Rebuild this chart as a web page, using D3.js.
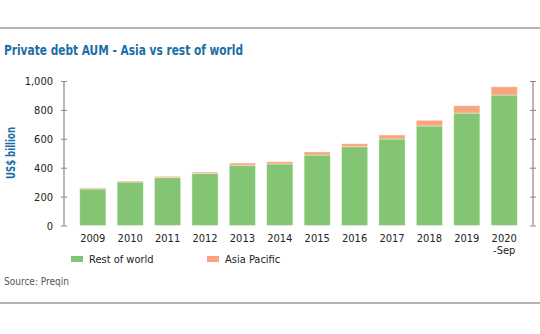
<!DOCTYPE html>
<html><head><meta charset="utf-8">
<script src="https://cdn.jsdelivr.net/npm/d3@7"></script>
<style>
html,body{margin:0;padding:0;background:#fff;}
svg{display:block;}
text{font-family:"DejaVu Sans Condensed","Liberation Sans Narrow","Roboto",sans-serif;}
</style></head>
<body>
<svg id="c" width="540" height="334"></svg>
<script>
const categories = ["2009","2010","2011","2012","2013","2014","2015","2016","2017","2018","2019","2020\n-Sep"];
const restOfWorld = [253,301,331,361,417,426,488,545,599,689,778,903];
const asiaPacific = [7,7,9,9,15,15,21,21,27,39,51,57];
const yTicks = [0,200,400,600,800,1000];
const seriesNames = ["Rest of world","Asia Pacific"];
const colors = ["#84c574","#f9a47c"];

const svg = d3.select("#c");
// frame lines
svg.append("line").attr("x1",0).attr("x2",540).attr("y1",28).attr("y2",28).attr("stroke","#9a9a9a").attr("stroke-width",1.5);
svg.append("line").attr("x1",0).attr("x2",540).attr("y1",303).attr("y2",303).attr("stroke","#9a9a9a").attr("stroke-width",1.5);

svg.append("text").attr("x",4).attr("y",55).attr("fill","#1b6ea6").attr("font-size",14).attr("font-weight","bold")
  .attr("textLength",239).attr("lengthAdjust","spacingAndGlyphs")
  .text("Private debt AUM - Asia vs rest of world");

const x = d3.scaleBand().domain(categories).range([64,533]).paddingInner(0.3).paddingOuter(0.42);
const y = d3.scaleLinear().domain([0,1000]).range([225.5,81]);

const data = categories.map((c,i)=>({cat:c, row:restOfWorld[i], ap:asiaPacific[i]}));
const stack = d3.stack().keys(["row","ap"])(data);

svg.append("g").selectAll("g").data(stack).join("g")
  .attr("fill",(d,i)=>colors[i])
  .selectAll("rect").data(d=>d).join("rect")
  .attr("x",d=>x(d.data.cat)).attr("width",x.bandwidth())
  .attr("y",d=>y(d[1])).attr("height",d=>y(d[0])-y(d[1]))
  .attr("stroke","#ffffff").attr("stroke-opacity",0.5).attr("stroke-width",0.8);

// left axis
const axL = svg.append("g").attr("transform","translate(64,0)")
  .call(d3.axisLeft(y).tickValues(yTicks).tickFormat(d3.format(",")).tickSize(3).tickPadding(8));
axL.select(".domain").remove();
axL.insert("line",":first-child").attr("y1",y(0)).attr("y2",y(1000)).attr("stroke","#888").attr("stroke-width",1.2);
axL.selectAll(".tick line").attr("x1",-3).attr("x2",3).attr("stroke","#888");
axL.selectAll(".tick text").attr("font-size",11).attr("fill","#222");

// right axis (no labels)
const axR = svg.append("g").attr("transform","translate(533,0)")
  .call(d3.axisRight(y).tickValues(yTicks).tickFormat("").tickSize(3));
axR.select(".domain").remove();
axR.insert("line",":first-child").attr("y1",y(0)).attr("y2",y(1000)).attr("stroke","#888").attr("stroke-width",1.2);
axR.selectAll(".tick line").attr("x1",-3).attr("x2",3).attr("stroke","#888");

// x labels
const xl = svg.append("g").selectAll("text").data(categories).join("text")
  .attr("x",d=>x(d)+x.bandwidth()/2).attr("y",242).attr("text-anchor","middle")
  .attr("font-size",11).attr("fill","#222");
xl.each(function(d){
  const parts = d.split("\n");
  d3.select(this).selectAll("tspan").data(parts).join("tspan")
    .attr("x",x(d)+x.bandwidth()/2).attr("dy",(p,i)=>i===0?0:11.5).text(p=>p);
});

// y title
svg.append("text").attr("transform","translate(15,153) rotate(-90)").attr("text-anchor","middle")
  .attr("fill","#1b6ea6").attr("font-size",11.5).attr("font-weight","bold")
  .attr("textLength",52).attr("lengthAdjust","spacingAndGlyphs").text("US$ billion");

// legend
const legX = [71,207];
seriesNames.forEach((n,i)=>{
  svg.append("rect").attr("x",legX[i]).attr("y",256).attr("width",12).attr("height",6).attr("fill",colors[i]);
  svg.append("text").attr("x",legX[i]+18).attr("y",263).attr("font-size",11).attr("fill","#222").text(n);
});

svg.append("text").attr("x",4).attr("y",285).attr("font-size",10).attr("fill","#555").text("Source: Preqin");
</script>
</body></html>
